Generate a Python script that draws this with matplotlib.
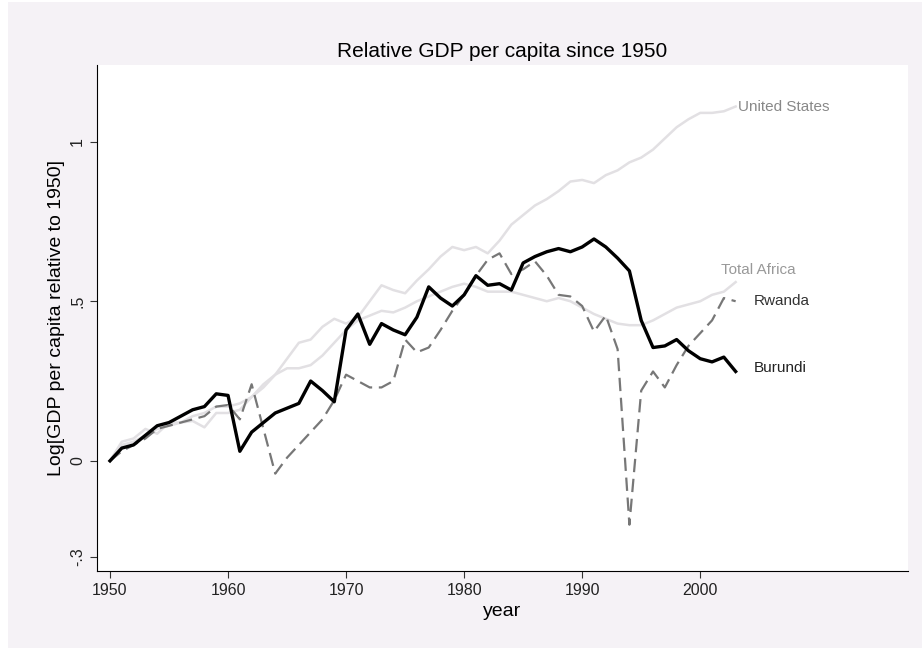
import matplotlib
matplotlib.use("Agg")
import matplotlib.pyplot as plt
from matplotlib.patches import Rectangle
import numpy as np

years = np.arange(1950, 2004)
burundi = [0, .04, .05, .08, .11, .12, .14, .16, .17, .21, .205, .03, .09, .12, .15, .165, .18, .25, .22, .185,
           .41, .46, .365, .43, .41, .395, .45, .545, .51, .485, .52, .58, .55, .555, .535, .62, .64, .655, .665, .655,
           .67, .695, .67, .635, .595, .44, .355, .36, .38, .345, .32, .31, .325, .28]
rwanda = [0, .03, .05, .07, .1, .11, .12, .13, .14, .17, .175, .13, .24, .1, -.04, .01, .05, .09, .13, .19,
          .27, .25, .23, .23, .25, .38, .34, .355, .41, .47, .52, .58, .63, .65, .585, .6, .625, .58, .52, .515,
          .485, .405, .455, .35, -.2, .22, .28, .23, .3, .36, .4, .44, .51, .5]
usa = [0, .06, .07, .1, .085, .12, .12, .125, .105, .15, .15, .16, .2, .23, .27, .32, .37, .38, .42, .445,
       .43, .45, .5, .55, .535, .525, .565, .6, .64, .67, .66, .67, .65, .69, .74, .77, .8, .82, .845, .875,
       .88, .87, .895, .91, .935, .95, .975, 1.01, 1.045, 1.07, 1.09, 1.09, 1.095, 1.11]
africa = [0, .05, .06, .08, .1, .11, .12, .14, .15, .17, .17, .18, .2, .24, .27, .29, .29, .3, .33, .37,
          .41, .44, .455, .47, .465, .48, .5, .515, .53, .545, .555, .545, .53, .53, .53, .52, .51, .5, .51, .5,
          .48, .46, .445, .43, .425, .425, .44, .46, .48, .49, .5, .52, .53, .56]

plt.rcParams['font.family'] = ['Liberation Sans', 'DejaVu Sans']
fig = plt.figure(figsize=(9.22, 6.5), dpi=100, facecolor='white')
fig.patches.append(Rectangle((8/922, 2/650), 914/922, 646/650, transform=fig.transFigure,
                             facecolor='#f5f2f6', edgecolor='none', zorder=-1))
ax = fig.add_axes([97/922, 79/650, 811/922, 506/650])
ax.plot(years, usa, color='#e2e0e3', lw=1.8)
ax.plot(years, africa, color='#e2e0e3', lw=1.8)
ax.plot(years, rwanda, color='#777777', lw=1.6, dashes=(6, 3))
ax.plot(years, burundi, color='black', lw=2.4)

ax.text(2003.2, usa[-1], 'United States', color='#888888', fontsize=11, va='center')
ax.text(2001.8, 0.575, 'Total Africa', color='#999999', fontsize=11, va='bottom')
ax.text(2004.5, rwanda[-1], 'Rwanda', color='#333333', fontsize=11, va='center')
ax.text(2004.5, burundi[-1] + 0.01, 'Burundi', color='#222222', fontsize=11, va='center')

ax.set_xlim(1948.9, 2017.6)
ax.set_ylim(-0.345, 1.24)
ax.set_xticks([1950, 1960, 1970, 1980, 1990, 2000])
ax.set_yticks([-0.3, 0, 0.5, 1])
ax.set_yticklabels(['-.3', '0', '.5', '1'], rotation=90, va='center')
ax.tick_params(labelsize=11.5, length=5, colors='#333333', labelcolor='#222222')
ax.set_xlabel('year', fontsize=14)
ax.set_ylabel('Log[GDP per capita relative to 1950]', fontsize=14)
ax.set_title('Relative GDP per capita since 1950', fontsize=15)
for s in ['top', 'right']:
    ax.spines[s].set_visible(False)

fig.savefig('out.png', facecolor=fig.get_facecolor())
